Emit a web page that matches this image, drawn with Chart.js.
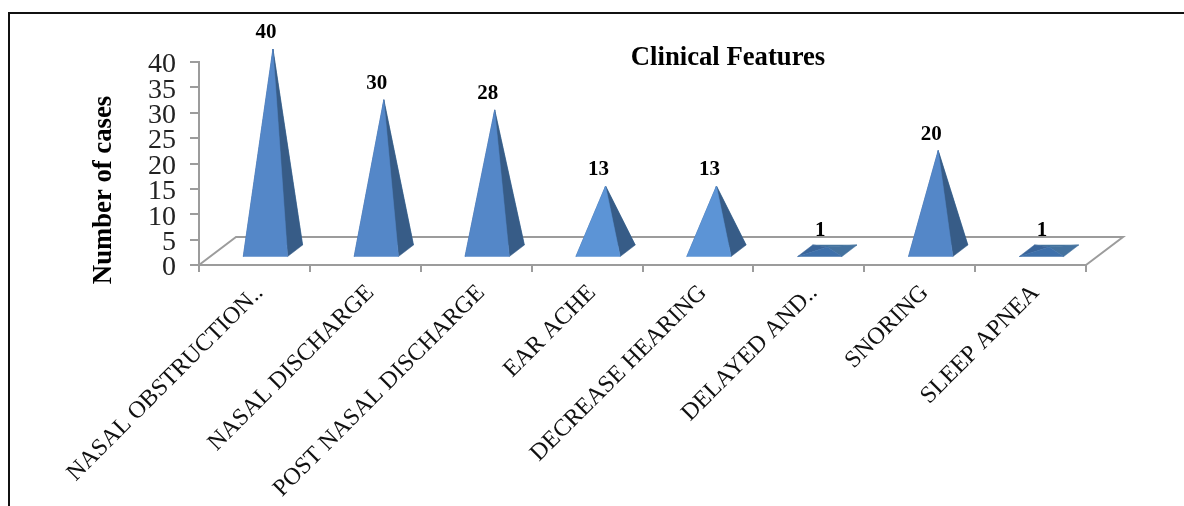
<!DOCTYPE html>
<html>
<head>
<meta charset="utf-8">
<style>
  html, body { margin: 0; padding: 0; background: #fff; overflow: hidden; }
  #wrap { position: relative; width: 1184px; height: 506px; overflow: hidden; }
  #frame { position: absolute; left: 8px; top: 12px; width: 1200px; height: 520px; border: 2px solid #111; }
  canvas { position: absolute; left: 0; top: 0; }
</style>
<script src="https://cdn.jsdelivr.net/npm/chart.js@4"></script>
</head>
<body>
<div id="wrap">
  <div id="frame"></div>
  <canvas id="featuresChart" width="1184" height="506"></canvas>
</div>
<script>
// Clinical features, pyramid chart
const categories = ['NASAL OBSTRUCTION..', 'NASAL DISCHARGE', 'POST NASAL DISCHARGE', 'EAR ACHE',
    'DECREASE HEARING', 'DELAYED AND..', 'SNORING', 'SLEEP APNEA'];
const cases = [40, 30, 28, 13, 13, 1, 20, 1];
const yTicks = [0, 5, 10, 15, 20, 25, 30, 35, 40];
const chartTitle = 'Clinical Features';
const yTitle = 'Number of cases';

const serif = '"Liberation Serif", "Times New Roman", serif';
const axisGrey = '#9c9c9c';

// fake perspective, all in px
const depthX = 37, depthY = 28;       // floor skew
const baseFrontY = 8.5;               // floor line to pyramid front edge
const baseDepthX = 15, baseDepthY = 11.5;
const baseShiftX = 11;                // bar x to pyramid front centre

function poly(ctx, pts, fill) {
    ctx.beginPath();
    pts.forEach((p, i) => i ? ctx.lineTo(p[0], p[1]) : ctx.moveTo(p[0], p[1]));
    ctx.closePath();
    ctx.fillStyle = fill;
    ctx.strokeStyle = fill;
    ctx.lineWidth = 0.5;
    ctx.fill();
    ctx.stroke();
}

const floorPlugin = {
    id: 'floor',
    beforeDatasetsDraw(chart) {
        const { ctx, chartArea: a } = chart;
        ctx.save();
        ctx.strokeStyle = axisGrey;
        ctx.lineWidth = 2;
        ctx.beginPath();
        ctx.moveTo(a.left, a.bottom);
        ctx.lineTo(a.left + depthX, a.bottom - depthY);
        ctx.lineTo(a.right + depthX, a.bottom - depthY);
        ctx.lineTo(a.right, a.bottom);
        ctx.stroke();
        ctx.restore();
    }
};

const pyramidPlugin = {
    id: 'pyramids',
    afterDatasetsDraw(chart) {
        const { ctx, chartArea: a } = chart;
        const bars = chart.getDatasetMeta(0).data;
        ctx.save();
        bars.forEach((bar, i) => {
            const half = bar.width / 2;
            const y0 = a.bottom - baseFrontY;
            const x0 = bar.x + baseShiftX - half;
            const x1 = bar.x + baseShiftX + half;
            const fl = [x0, y0], fr = [x1, y0];
            const bl = [x0 + baseDepthX, y0 - baseDepthY], br = [x1 + baseDepthX, y0 - baseDepthY];
            // apex sits over the middle of the base, raised by the value
            const apex = [(x0 + x1 + baseDepthX) / 2, bar.y - depthY / 2 + 1];
            const low = cases[i] < 5;
            const tall = cases[i] > 15;
            poly(ctx, [bl, br, apex], '#44749f');
            poly(ctx, [fl, bl, apex], '#3a659a');
            poly(ctx, [fr, br, apex], low ? '#44729f' : '#375c87');
            poly(ctx, [fl, fr, apex], low ? '#3e70aa' : (tall ? '#5487c8' : '#5c94d6'));
            // value label above the apex
            ctx.fillStyle = '#000';
            ctx.font = 'bold 21px ' + serif;
            ctx.textAlign = 'center';
            ctx.textBaseline = 'alphabetic';
            ctx.fillText(String(cases[i]), apex[0] - 7, apex[1] - 11);
        });
        ctx.fillStyle = '#000';
        ctx.font = 'bold 26.7px ' + serif;
        ctx.fillText(chartTitle, 728, 65);
        ctx.translate(111, 190);
        ctx.rotate(-Math.PI / 2);
        ctx.fillText(yTitle, 0, 0);
        ctx.restore();
    }
};

new Chart(document.getElementById('featuresChart'), {
    type: 'bar',
    data: {
        labels: categories,
        datasets: [{
            label: 'Number of cases',
            data: cases,
            backgroundColor: 'rgba(0,0,0,0)',
            barPercentage: 1,
            categoryPercentage: 0.4
        }]
    },
    options: {
        responsive: false,
        animation: false,
        devicePixelRatio: 1,
        layout: { padding: { top: 62, right: 98, left: 0, bottom: 0 } },
        plugins: { legend: { display: false }, tooltip: { enabled: false }, title: { display: false } },
        scales: {
            y: {
                min: 0,
                max: 40,
                afterBuildTicks(axis) { axis.ticks = yTicks.map(v => ({ value: v })); },
                afterFit(axis) { axis.width = 199; },
                grid: { drawOnChartArea: false, color: axisGrey, lineWidth: 2, tickLength: 9 },
                border: { color: axisGrey, width: 2 },
                ticks: {
                    color: '#222',
                    padding: 14,
                    labelOffset: 3,
                    autoSkip: false,
                    font: { family: serif, size: 28 }
                }
            },
            x: {
                afterFit(axis) { axis.height = 241; },
                grid: { drawOnChartArea: false, color: axisGrey, lineWidth: 2, tickLength: 7, offset: true },
                border: { color: axisGrey, width: 2 },
                ticks: {
                    color: '#111',
                    autoSkip: false,
                    minRotation: 45,
                    maxRotation: 45,
                    labelOffset: 5,
                    padding: 7,
                    font: { family: serif, size: 24 }
                }
            }
        }
    },
    plugins: [floorPlugin, pyramidPlugin]
});
</script>
</body>
</html>
